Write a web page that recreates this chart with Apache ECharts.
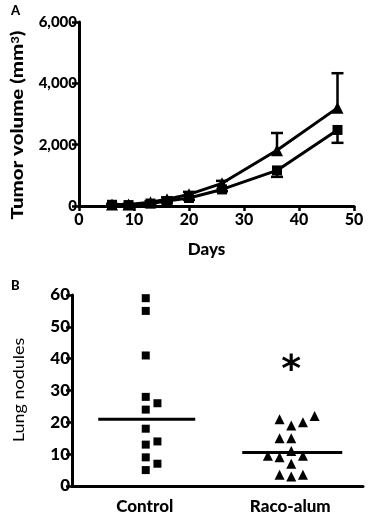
<!DOCTYPE html>
<html>
<head>
<meta charset="utf-8">
<script src="https://cdn.jsdelivr.net/npm/echarts@6/dist/echarts.min.js"></script>
<style>
  html, body { margin: 0; padding: 0; background: #fff; }
  #main { width: 368px; height: 515px; }
</style>
</head>
<body>
<div id="main"></div>
<script>
// panel A: tumor volume over time
const days = [6, 9, 13, 16, 20, 26, 36, 47];
const volTriangle = [50, 50, 120, 220, 380, 740, 1820, 3200];
const errTriangle = [20, 20, 40, 60, 80, 80, 560, 1130];
const volSquare = [40, 30, 80, 160, 260, 540, 1160, 2480];
const errSquare = [20, 20, 30, 50, 60, 60, 210, 420];
const dayTicks = [0, 10, 20, 30, 40, 50];

// panel B: lung nodules per mouse
const groups = ['Control', 'Raco-alum'];
const controlNodules = [59, 55, 41, 28, 26, 24, 18, 14, 13, 9, 7, 5];
const controlCols = [0, 0, 0, 0, 1, 0, 0, 1, 0, 0, 1, 0];
const racoNodules = [21, 19, 20, 22, 15, 15, 11, 9.5, 9, 9.5, 7, 3.5, 3, 3.5];
const racoCols = [-1, 0, 1, 2, -1, 0, 0, -2, -1, 1, 0, -1, 0, 1];
const medians = [21, 10.5];
const starValue = 39;

const FONT = 'Lato';
const HEAVY = 900;
const colStep = 11.7;

const chart = echarts.init(document.getElementById('main'), null, { renderer: 'canvas' });

function errorBar(dir) {
  return function (params, api) {
    const x = api.value(0), y = api.value(1), e = api.value(2);
    const p0 = api.coord([x, y]);
    const p1 = api.coord([x, y + dir * e]);
    const st = { stroke: '#000', lineWidth: 2.5 };
    return {
      type: 'group',
      children: [
        { type: 'line', shape: { x1: p0[0], y1: p0[1], x2: p1[0], y2: p1[1] }, style: st },
        { type: 'line', shape: { x1: p1[0] - 6, y1: p1[1], x2: p1[0] + 6, y2: p1[1] }, style: st }
      ]
    };
  };
}

const black = { color: '#000', opacity: 1 };

const option = {
  animation: false,
  textStyle: { fontFamily: FONT },
  grid: [
    { left: 79, top: 22, width: 275, height: 184 },
    { left: 72, top: 295, width: 291, height: 194 }
  ],
  xAxis: [
    {
      gridIndex: 0, type: 'value', min: 0, max: 50, interval: 10,
      axisLine: { lineStyle: { color: '#000', width: 3 } },
      axisTick: { length: 5, lineStyle: { color: '#000', width: 2.5 } },
      axisLabel: { color: '#000', fontSize: 16, fontWeight: HEAVY, margin: 6, fontFamily: FONT },
      splitLine: { show: false },
      name: 'Days', nameLocation: 'middle', nameGap: 35,
      nameTextStyle: { color: '#000', fontSize: 17, fontWeight: HEAVY, fontFamily: FONT, padding: [0, 20, 0, 0] }
    },
    {
      gridIndex: 1, type: 'category', data: groups,
      axisLine: { lineStyle: { color: '#000', width: 3 } },
      axisTick: { alignWithLabel: true, length: 6, lineStyle: { color: '#000', width: 2.5 } },
      axisLabel: { color: '#000', fontSize: 17, fontWeight: HEAVY, margin: 12, fontFamily: FONT }
    }
  ],
  yAxis: [
    {
      gridIndex: 0, type: 'value', min: 0, max: 6000, interval: 2000,
      axisLine: { show: true, lineStyle: { color: '#000', width: 3 } },
      axisTick: { show: true, length: 7, lineStyle: { color: '#000', width: 2.5 } },
      axisLabel: {
        color: '#000', fontSize: 15, fontWeight: HEAVY, margin: 2, fontFamily: FONT,
        formatter: v => v.toLocaleString('en-US')
      },
      splitLine: { show: false }
    },
    {
      gridIndex: 1, type: 'value', min: 0, max: 60, interval: 10,
      axisLine: { show: true, lineStyle: { color: '#000', width: 3 } },
      axisTick: { show: true, length: 6, lineStyle: { color: '#000', width: 2.5 } },
      axisLabel: { color: '#000', fontSize: 17, fontWeight: HEAVY, margin: 2, fontFamily: FONT },
      splitLine: { show: false }
    }
  ],
  graphic: [
    { type: 'text', left: 11, top: 4, style: { text: 'A', fontSize: 13, fontWeight: HEAVY, fontFamily: FONT, fill: '#000' } },
    { type: 'text', left: 11, top: 279, style: { text: 'B', fontSize: 13, fontWeight: HEAVY, fontFamily: FONT, fill: '#000' } },
    {
      type: 'text', x: 18, y: 125, rotation: Math.PI / 2, scaleX: 1.2,
      style: {
        text: '{a|Tumor volume (mm}{s|3}{a|)}',
        align: 'center', verticalAlign: 'middle', fill: '#000',
        rich: {
          a: { fontSize: 17, fontWeight: HEAVY, fontFamily: FONT, fill: '#000' },
          s: { fontSize: 11, fontWeight: HEAVY, fontFamily: FONT, fill: '#000', verticalAlign: 'top' }
        }
      }
    },
    {
      type: 'text', x: 19, y: 390, rotation: Math.PI / 2, scaleX: 1.2,
      style: { text: 'Lung nodules', align: 'center', verticalAlign: 'middle', fontSize: 15, fontFamily: FONT, fill: '#000' }
    }
  ],
  series: [
    {
      type: 'line', xAxisIndex: 0, yAxisIndex: 0,
      data: days.map((d, i) => [d, volTriangle[i]]),
      symbol: 'triangle', symbolSize: 12, showAllSymbol: true,
      lineStyle: { color: '#000', width: 3 }, itemStyle: black, z: 3
    },
    {
      type: 'line', xAxisIndex: 0, yAxisIndex: 0,
      data: days.map((d, i) => [d, volSquare[i]]),
      symbol: 'rect', symbolSize: 10, showAllSymbol: true,
      lineStyle: { color: '#000', width: 3 }, itemStyle: black, z: 3
    },
    {
      type: 'custom', xAxisIndex: 0, yAxisIndex: 0,
      data: days.map((d, i) => [d, volTriangle[i], errTriangle[i]]),
      renderItem: errorBar(1), z: 2
    },
    {
      type: 'custom', xAxisIndex: 0, yAxisIndex: 0,
      data: days.map((d, i) => [d, volSquare[i], errSquare[i]]),
      renderItem: errorBar(-1), z: 2
    },
    {
      type: 'scatter', xAxisIndex: 1, yAxisIndex: 1,
      symbol: 'rect', symbolSize: 8, itemStyle: black,
      data: controlNodules.map((v, i) => ({ value: [0, v], symbolOffset: [1 + controlCols[i] * colStep, 0] }))
    },
    {
      type: 'scatter', xAxisIndex: 1, yAxisIndex: 1,
      symbol: 'triangle', symbolSize: 10, itemStyle: black,
      data: racoNodules.map((v, i) => ({ value: [1, v], symbolOffset: [1 + racoCols[i] * colStep, 0] }))
    },
    {
      type: 'scatter', xAxisIndex: 1, yAxisIndex: 1,
      symbol: 'rect', itemStyle: black,
      data: medians.map((v, i) => ({ value: [i, v], symbolSize: [i === 0 ? 97 : 100, 3], symbolOffset: [2, 0] }))
    },
    {
      type: 'scatter', xAxisIndex: 1, yAxisIndex: 1,
      symbolSize: 1, itemStyle: { color: '#fff', opacity: 1 },
      label: { show: true, formatter: '*', position: 'inside', fontSize: 38, fontWeight: 'bold', color: '#000', opacity: 1, fontFamily: 'DejaVu Sans', offset: [1, 9] },
      data: [[1, starValue]]
    }
  ]
};
chart.setOption(option);
</script>
</body>
</html>
